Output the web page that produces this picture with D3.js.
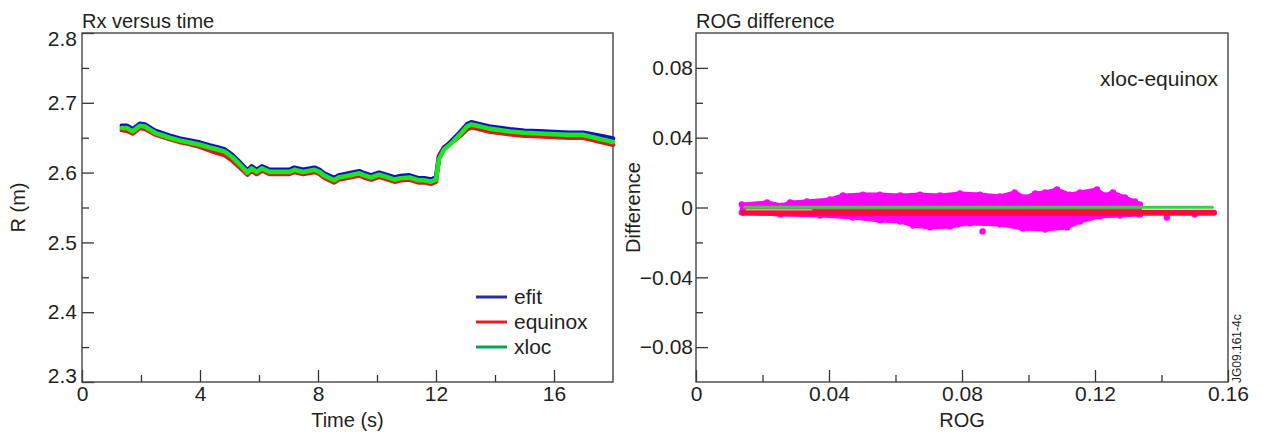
<!DOCTYPE html>
<html>
<head>
<meta charset="utf-8">
<script src="https://cdn.jsdelivr.net/npm/d3@7"></script>
<style>
  html, body { margin: 0; padding: 0; background: #fff; }
  svg { display: block; }
  text { font-family: "Liberation Sans", Arial, Helvetica, sans-serif; fill: #231f20; }
</style>
</head>
<body>
<svg id="chart" width="1262" height="436"></svg>
<script>
// ---------- Left panel data: Rx versus time ----------
const time = [1.35,1.52,1.72,1.96,2.13,2.47,2.97,3.3,3.65,4.0,
  4.33,4.6,4.84,5.1,5.34,5.61,5.75,5.92,6.1,6.36,
  6.7,7.03,7.2,7.5,7.88,8.05,8.2,8.55,8.7,9.06,
  9.4,9.57,9.8,10.07,10.3,10.6,10.8,11.1,11.4,11.6,
  11.83,12.0,12.1,12.27,12.5,12.8,13.05,13.2,13.4,13.8,
  14.5,15.0,15.5,16.0,16.5,17.0,17.5,18.0];
const efit = [2.667,2.667,2.662,2.670,2.669,2.660,2.653,2.649,2.646,2.643,
  2.639,2.636,2.633,2.625,2.615,2.603,2.609,2.604,2.609,2.604,
  2.604,2.604,2.607,2.604,2.607,2.604,2.599,2.592,2.596,2.599,
  2.602,2.599,2.596,2.600,2.597,2.593,2.595,2.596,2.592,2.592,
  2.590,2.593,2.621,2.635,2.644,2.657,2.669,2.672,2.670,2.666,
  2.662,2.660,2.659,2.658,2.657,2.657,2.653,2.649];
const equinox = [2.661,2.660,2.656,2.664,2.663,2.655,2.648,2.644,2.641,2.637,
  2.632,2.628,2.625,2.617,2.608,2.597,2.603,2.598,2.603,2.598,
  2.598,2.598,2.601,2.598,2.601,2.598,2.593,2.586,2.590,2.593,
  2.596,2.593,2.590,2.594,2.591,2.587,2.589,2.590,2.586,2.586,
  2.584,2.587,2.624,2.636,2.642,2.652,2.662,2.665,2.663,2.659,
  2.655,2.653,2.652,2.651,2.650,2.650,2.645,2.640];
const xloc = [2.664,2.664,2.659,2.667,2.666,2.657,2.650,2.646,2.643,2.640,
  2.636,2.633,2.630,2.622,2.612,2.600,2.606,2.601,2.606,2.601,
  2.601,2.601,2.604,2.601,2.604,2.601,2.596,2.589,2.593,2.596,
  2.599,2.596,2.593,2.597,2.594,2.590,2.592,2.593,2.589,2.589,
  2.587,2.590,2.619,2.633,2.641,2.654,2.666,2.669,2.667,2.663,
  2.659,2.657,2.656,2.655,2.654,2.654,2.649,2.644];
const seriesNames = ["efit", "equinox", "xloc"];

const leftXTicks = [0, 4, 8, 12, 16];
const leftXTickLabels = ["0", "4", "8", "12", "16"];
const leftXMinor = [2, 6, 10, 14];
const leftYTicks = [2.3, 2.4, 2.5, 2.6, 2.7, 2.8];
const leftYTickLabels = ["2.3", "2.4", "2.5", "2.6", "2.7", "2.8"];
const leftYMinor = [2.35, 2.45, 2.55, 2.65, 2.75];

// ---------- Right panel data: ROG difference ----------
// envelope of the xloc-equinox scatter cloud (ROG, difference)
const cloudUpperRog  = [0.0138,0.0214,0.0259,0.0283,0.0334,0.0403,0.0442,0.0502,0.0553,0.0614,0.0674,0.0734,0.0794,0.0854,0.0914,0.0959,0.0989,0.1020,0.1050,0.1086,0.1125,0.1155,0.1206,0.1230,0.1254,0.1290,0.1320,0.1335];
const cloudUpperDiff = [0.0017,0.0029,0.0011,0.0029,0.0034,0.0046,0.0069,0.0074,0.0074,0.0069,0.0074,0.0069,0.0080,0.0074,0.0063,0.0086,0.0057,0.0080,0.0086,0.0103,0.0074,0.0086,0.0103,0.0069,0.0086,0.0057,0.0034,0.0017];
const cloudLowerRog  = [0.0138,0.0253,0.0373,0.0472,0.0553,0.0614,0.0653,0.0704,0.0764,0.0824,0.0914,0.0983,0.1050,0.1116,0.1155,0.1215,0.1275,0.1335];
const cloudLowerDiff = [-0.0029,-0.0040,-0.0046,-0.0057,-0.0074,-0.0080,-0.0103,-0.0114,-0.0109,-0.0091,-0.0097,-0.0120,-0.0126,-0.0114,-0.0080,-0.0051,-0.0046,-0.0040];
const strayRog  = [0.0862, 0.1416, 0.1500];
const strayDiff = [-0.0137, -0.0057, -0.0040];

const greenLineRog = [0.0147, 0.1553];
const greenLineDiff = [0.0002, 0.0002];
const redLineRog = [0.0142, 0.1558];
const redLineDiff = [-0.0030, -0.0030];
const paleLineRog = [0.0150, 0.0350];
const paleLineDiff = [-0.0013, -0.0013];

const rightXTicks = [0, 0.04, 0.08, 0.12, 0.16];
const rightXTickLabels = ["0", "0.04", "0.08", "0.12", "0.16"];
const rightXMinor = [0.02, 0.06, 0.10, 0.14];
const rightYTicks = [-0.08, -0.04, 0, 0.04, 0.08];
const rightYTickLabels = ["\u22120.08", "\u22120.04", "0", "0.04", "0.08"];
const rightYMinor = [-0.06, -0.02, 0.02, 0.06];

// ---------- drawing ----------
const svg = d3.select("#chart");
const TICK_FONT = 21;
const LABEL_FONT = 20;

function panel(opt) {
  const g = svg.append("g");
  const x = d3.scaleLinear().domain(opt.xDomain).range([opt.left, opt.right]);
  const y = d3.scaleLinear().domain(opt.yDomain).range([opt.bottom, opt.top]);

  // minor ticks
  g.append("g").attr("transform", `translate(0,${opt.bottom})`)
    .call(d3.axisBottom(x).tickValues(opt.xMinor).tickSizeInner(-7).tickSizeOuter(0).tickFormat(""))
    .call(s => { s.select(".domain").remove(); s.selectAll("line").attr("stroke", "#333").attr("stroke-width", 1.3); });
  g.append("g").attr("transform", `translate(${opt.left},0)`)
    .call(d3.axisLeft(y).tickValues(opt.yMinor).tickSizeInner(-7).tickSizeOuter(0).tickFormat(""))
    .call(s => { s.select(".domain").remove(); s.selectAll("line").attr("stroke", "#333").attr("stroke-width", 1.3); });

  // major ticks
  const xa = g.append("g").attr("transform", `translate(0,${opt.bottom})`)
    .call(d3.axisBottom(x).tickValues(opt.xTicks).tickSizeInner(-12).tickSizeOuter(0).tickPadding(4)
      .tickFormat((d, i) => opt.xLabels[i]));
  const ya = g.append("g").attr("transform", `translate(${opt.left},0)`)
    .call(d3.axisLeft(y).tickValues(opt.yTicks).tickSizeInner(-12).tickSizeOuter(0).tickPadding(opt.yPad)
      .tickFormat((d, i) => opt.yLabels[i]));
  [xa, ya].forEach(a => {
    a.select(".domain").remove();
    a.selectAll("line").attr("stroke", "#333").attr("stroke-width", 1.3);
    a.selectAll("text").attr("font-size", TICK_FONT).attr("font-family", null).attr("fill", "#231f20");
  });
  if (opt.shiftEnds) {
    ya.selectAll(".tick").filter(d => d === opt.yDomain[1]).select("text").attr("dy", "0.6em");
    ya.selectAll(".tick").filter(d => d === opt.yDomain[0]).select("text").attr("dy", "0.04em");
  }

  // frame
  g.append("rect").attr("x", opt.left).attr("y", opt.top)
    .attr("width", opt.right - opt.left).attr("height", opt.bottom - opt.top)
    .attr("fill", "none").attr("stroke", "#444").attr("stroke-width", 1.4);

  // title and axis labels
  g.append("text").attr("x", opt.left).attr("y", 28).attr("font-size", LABEL_FONT).text(opt.title);
  g.append("text").attr("x", (opt.left + opt.right) / 2).attr("y", 427)
    .attr("text-anchor", "middle").attr("font-size", LABEL_FONT).text(opt.xTitle);
  g.append("text").attr("transform", `translate(${opt.yTitleX},${(opt.top + opt.bottom) / 2}) rotate(-90)`)
    .attr("text-anchor", "middle").attr("font-size", LABEL_FONT).text(opt.yTitle);

  return { g, x, y };
}

// Left panel
const L = panel({
  left: 82, right: 613, top: 33, bottom: 382,
  xDomain: [0, 18], yDomain: [2.3, 2.8],
  xTicks: leftXTicks, xLabels: leftXTickLabels, xMinor: leftXMinor,
  yTicks: leftYTicks, yLabels: leftYTickLabels, yMinor: leftYMinor,
  yPad: 5, shiftEnds: true,
  title: "Rx versus time", xTitle: "Time (s)", yTitle: "R (m)", yTitleX: 25
});

const lineL = d3.line().x(d => L.x(d[0])).y(d => L.y(d[1]));
const seriesData = { efit: efit, equinox: equinox, xloc: xloc };
const plotColors = { efit: "#0a12c8", equinox: "#e0141c", xloc: "#1ee61e" };
const legendColors = { efit: "#2b3192", equinox: "#ed1c24", xloc: "#00a651" };
["equinox", "efit", "xloc"].forEach(name => {
  L.g.append("path")
    .attr("d", lineL(time.map((t, i) => [t, seriesData[name][i]])))
    .attr("fill", "none").attr("stroke", plotColors[name]).attr("stroke-width", 4.6)
    .attr("stroke-linejoin", "round").attr("stroke-linecap", "round");
});

// legend
seriesNames.forEach((name, i) => {
  const ly = 297 + i * 25;
  L.g.append("line").attr("x1", 476).attr("x2", 507).attr("y1", ly).attr("y2", ly)
    .attr("stroke", legendColors[name]).attr("stroke-width", 3);
  L.g.append("text").attr("x", 514).attr("y", ly + 7).attr("font-size", TICK_FONT).text(name);
});

// Right panel
const R = panel({
  left: 696, right: 1228, top: 33, bottom: 382,
  xDomain: [0, 0.16], yDomain: [-0.1, 0.1],
  xTicks: rightXTicks, xLabels: rightXTickLabels, xMinor: rightXMinor,
  yTicks: rightYTicks, yLabels: rightYTickLabels, yMinor: rightYMinor,
  yPad: 3, shiftEnds: false,
  title: "ROG difference", xTitle: "ROG", yTitle: "Difference", yTitleX: 640
});

const upperPts = cloudUpperRog.map((r, i) => [r, cloudUpperDiff[i]]);
const lowerPts = cloudLowerRog.map((r, i) => [r, cloudLowerDiff[i]]);
const lineR = d3.line().x(d => R.x(d[0])).y(d => R.y(d[1]));
const cloudColor = "#ff00ff";
R.g.append("path")
  .attr("d", lineR(upperPts.concat(lowerPts.slice().reverse())) + "Z")
  .attr("fill", cloudColor).attr("stroke", cloudColor).attr("stroke-width", 4).attr("stroke-linejoin", "round");
R.g.selectAll("circle.edge")
  .data(upperPts.concat(lowerPts).concat(strayRog.map((r, i) => [r, strayDiff[i]])))
  .join("circle").attr("class", "edge")
  .attr("cx", d => R.x(d[0])).attr("cy", d => R.y(d[1])).attr("r", 3.2)
  .attr("fill", cloudColor);

R.g.append("path")
  .attr("d", lineR(redLineRog.map((r, i) => [r, redLineDiff[i]])))
  .attr("stroke", "#ff0a3c").attr("stroke-width", 6).attr("stroke-linecap", "round").attr("fill", "none");
R.g.append("path")
  .attr("d", lineR(paleLineRog.map((r, i) => [r, paleLineDiff[i]])))
  .attr("stroke", "#ff9a6a").attr("stroke-width", 1.3).attr("fill", "none");
R.g.append("path")
  .attr("d", lineR(greenLineRog.map((r, i) => [r, greenLineDiff[i]])))
  .attr("stroke", "#38d23a").attr("stroke-width", 3).attr("stroke-linecap", "round").attr("fill", "none");

R.g.append("text").attr("x", 1218).attr("y", 86).attr("text-anchor", "end")
  .attr("font-size", TICK_FONT).text("xloc-equinox");

svg.append("text").attr("transform", "translate(1241,383) rotate(-90)")
  .attr("font-size", 12).text("JG09.161-4c");
</script>
</body>
</html>
